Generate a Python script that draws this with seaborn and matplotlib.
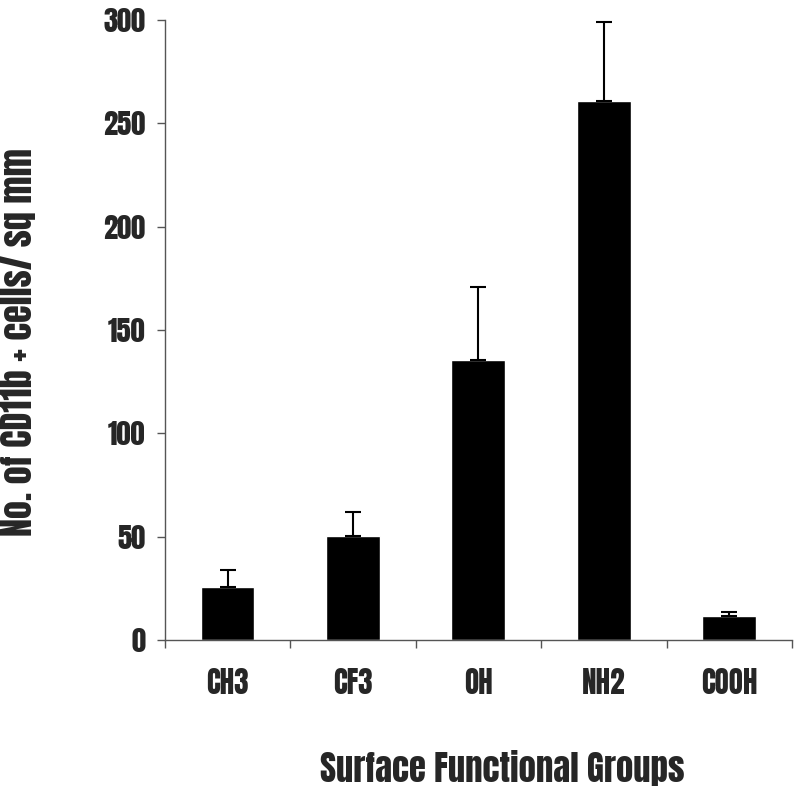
import matplotlib
matplotlib.use("Agg")
import matplotlib.pyplot as plt
import seaborn as sns
import pandas as pd
import numpy as np

groups = ["CH3", "CF3", "OH", "NH2", "COOH"]
cells = [25.8, 50.4, 135.3, 260.5, 11.6]
err_up = [8.0, 11.3, 35.4, 38.5, 1.9]

df = pd.DataFrame({"group": groups, "cells": cells})

sns.set_style("white")
plt.rcParams["font.family"] = ["Anton", "Oswald", "DejaVu Sans"]

fig = plt.figure(figsize=(8, 7.92), dpi=100)
ax = fig.add_axes([0.206, 0.192, 0.784, 0.783])

sns.barplot(data=df, x="group", y="cells", color="black", width=0.43,
            errorbar=None, saturation=1, ax=ax)
ax.errorbar(np.arange(len(groups)), cells, yerr=[np.zeros(len(groups)), err_up],
            fmt="none", ecolor="black", elinewidth=1.5, capsize=6, capthick=1.5)

ax.set_xlim(-0.5, len(groups) - 0.5)
ax.set_ylim(0, 300)
ax.set_yticks(range(0, 301, 50))
ax.set_xticks(np.arange(-0.5, len(groups), 1.0), minor=True)

for side in ["top", "right"]:
    ax.spines[side].set_visible(False)
for side in ["left", "bottom"]:
    ax.spines[side].set_color("#555555")
    ax.spines[side].set_linewidth(1)

ax.tick_params(axis="y", which="major", direction="out", length=6, width=1,
               color="#555555", pad=8, labelsize=20.5, left=True)
ax.tick_params(axis="x", which="major", length=0, pad=20, labelsize=21)
ax.tick_params(axis="x", which="minor", direction="out", length=6, width=1,
               color="#555555", bottom=True)

ax.set_xlabel("Surface Functional Groups", fontsize=25, va="top")
ax.xaxis.set_label_coords(0.5375, -0.178)
ax.set_ylabel("No. of CD11b + cells/ sq mm", fontsize=26)
ax.yaxis.set_label_coords(-0.205, 0.48)

fig.savefig("out.png", dpi=100)
